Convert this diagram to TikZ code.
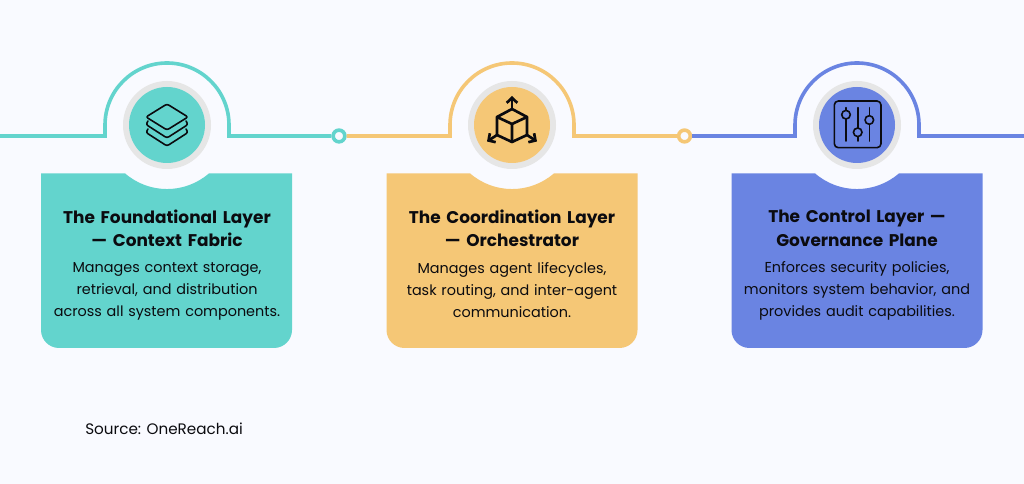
\documentclass[tikz,border=0pt]{standalone}
\usepackage{fontspec}
\setmainfont{Poppins}
\usetikzlibrary{arrows.meta,positioning}
\definecolor{pagebg}{HTML}{F9FAFF}
\definecolor{tealc}{HTML}{63D4CD}
\definecolor{orangec}{HTML}{F5C776}
\definecolor{bluec}{HTML}{6A84E2}
\definecolor{haloc}{HTML}{E6E6E6}
\definecolor{inkc}{HTML}{0B0B0F}

\begin{document}
\begin{tikzpicture}[x=0.75pt,y=0.75pt,
  wire/.style={line width=2.7pt,miter limit=10},
  ring/.style={circle,draw,line width=2.7pt,fill=pagebg,minimum size=8.8pt,inner sep=0pt},
  halo/.style={circle,fill=haloc,minimum size=66pt,inner sep=0pt},
  badge/.style={circle,minimum size=57pt,inner sep=0pt},
  title/.style={align=center,text=inkc,font=\fontsize{12.7}{17.6}\selectfont\bfseries,text width=180pt},
  body/.style={align=center,text=inkc,font=\fontsize{10.8}{16.5}\selectfont,text width=185pt},
  icon/.style={draw=inkc,line width=1.2pt,line join=round,line cap=round},
  iconb/.style={draw=inkc,line width=2pt,line join=round,line cap=round},
  tip/.style={-{Straight Barb[length=3.8pt,width=8pt,line width=2pt]}}]

  \useasboundingbox[fill=pagebg] (0,0) rectangle (1024,484);

  % joints and free ends
  \coordinate (start) at (0,348);
  \coordinate (stop) at (1024,348);
  \node[ring,draw=tealc] (r1) at (339,348) {};
  \node[ring,draw=orangec] (r2) at (684.5,348) {};

  % wires
  \draw[wire,tealc] (start) -- (105,348) -- (105,359) arc (180:0:62) -- (229,348) -- (r1);
  \draw[wire,orangec] (r1) -- (450,348) -- (450,359) arc (180:0:62) -- (574,348) -- (r2);
  \draw[wire,bluec] (r2) -- (795,348) -- (795,359) arc (180:0:62) -- (919,348) -- (stop);

  % cards
  \fill[tealc] (41,310.5) -- (125.2,310.5) arc (229.2:310.8:64) -- (292,310.5) -- (292,154) arc (0:-90:18) -- (59,136) arc (270:180:18) -- cycle;
  \fill[orangec] (386.5,310.5) -- (470.2,310.5) arc (229.2:310.8:64) -- (637.5,310.5) -- (637.5,154) arc (0:-90:18) -- (404.5,136) arc (270:180:18) -- cycle;
  \fill[bluec] (731.5,310.5) -- (815.2,310.5) arc (229.2:310.8:64) -- (982.5,310.5) -- (982.5,154) arc (0:-90:18) -- (749.5,136) arc (270:180:18) -- cycle;

  % badges
  \node[halo] (h1) at (167,359) {};
  \node[badge,fill=tealc] (b1) at (h1) {};
  \node[halo] (h2) at (512,359) {};
  \node[badge,fill=orangec] (b2) at (h2) {};
  \node[halo] (h3) at (857,359) {};
  \node[badge,fill=bluec] (b3) at (h3) {};

  % layers icon
  \draw[icon,rounded corners=1.6pt] (167,380) -- (188,367) -- (167,354) -- (146,367) -- cycle;
  \draw[icon,rounded corners=1.6pt] (148,363) -- (146,359.5) -- (167,346) -- (188,359.5) -- (186,363);
  \draw[icon,rounded corners=1.6pt] (148,355) -- (146,351.5) -- (167,338) -- (188,351.5) -- (186,355);

  % cube icon
  \draw[iconb] (512,375) -- (527,367) -- (527,349) -- (512,342) -- (497,349) -- (497,367) -- cycle;
  \draw[iconb] (497,367) -- (512,360) -- (527,367) (512,360) -- (512,342);
  \coordinate (cubetop) at (512,375);
  \coordinate (cubeleft) at (497,349);
  \coordinate (cuberight) at (527,349);
  \draw[iconb,tip] (cubetop) -- (512,388);
  \draw[iconb,tip] (cubeleft) -- (487,342.5);
  \draw[iconb,tip] (cuberight) -- (537,342.5);

  % sliders icon
  \draw[icon,rounded corners=3pt] (834.3,383) rectangle (881,336.3);
  \draw[icon] (846,376.3) -- (846,343);
  \draw[icon] (857.7,376.3) -- (857.7,343);
  \draw[icon] (869.3,376.3) -- (869.3,343);
  \draw[icon,fill=bluec] (846,369.3) circle (4.3);
  \draw[icon,fill=bluec] (857.7,351.7) circle (4.3);
  \draw[icon,fill=bluec] (869.3,364) circle (4.3);

  % card texts
  \node[title] (t1) at (167,255.5) {The Foundational Layer\\— Context Fabric};
  \node[body,below=4.5pt of t1] (d1) {Manages context storage,\\retrieval, and distribution\\across all system components.};
  \node[title] (t2) at (512,255.5) {The Coordination Layer\\— Orchestrator};
  \node[body,below=4.5pt of t2] (d2) {Manages agent lifecycles,\\task routing, and inter-agent\\communication.};
  \node[title] (t3) at (857,255.5) {The Control Layer —\\Governance Plane};
  \node[body,below=4.5pt of t3] (d3) {Enforces security policies,\\monitors system behavior, and\\provides audit capabilities.};

  \node[anchor=west,text=inkc,font=\fontsize{11.4}{14}\selectfont,inner sep=0pt] (src) at (85,55) {Source: OneReach.ai};
\end{tikzpicture}
\end{document}
